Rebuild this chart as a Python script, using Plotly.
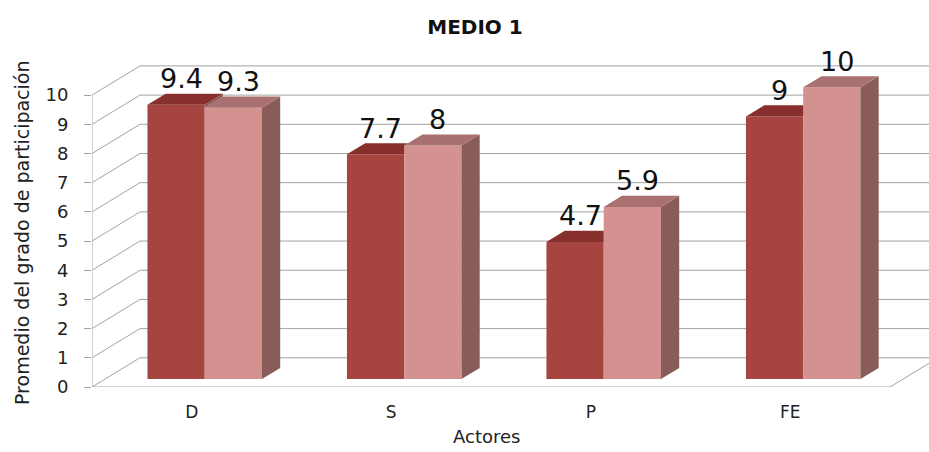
import plotly.graph_objects as go

# ---- data ----
categorias = ["D", "S", "P", "FE"]
serie_1 = [9.4, 7.7, 4.7, 9]
serie_2 = [9.3, 8, 5.9, 10]
y_ticks = list(range(0, 11))

# ---- oblique 3D projection settings (axis units) ----
DEPTH_X = 0.2406      # horizontal shift of the back wall
DEPTH_Y = 1.0         # vertical shift of the back wall
BAR_FRONT = 0.27      # depth fraction of the column front plane
BAR_DEPTH = 0.38      # depth fraction of the column thickness
BAR_W = 0.287
X_MIN, X_MAX = -0.5, 3.6955
Y_MAX = 11.1

C_DARK_FRONT, C_DARK_TOP = "#A6453F", "#862F2C"
C_LIGHT_FRONT, C_LIGHT_TOP, C_LIGHT_SIDE = "#D3918F", "#A87070", "#895C5A"
GRID = "#A3A3A3"
FONT = "DejaVu Sans"

fx, fy = BAR_FRONT * DEPTH_X, BAR_FRONT * DEPTH_Y     # front-plane shift
ddx, ddy = BAR_DEPTH * DEPTH_X, BAR_DEPTH * DEPTH_Y   # column thickness shift
n = len(categorias)
pos = list(range(n))
x_dark = [p + fx - BAR_W / 2 for p in pos]
x_light = [p + fx + BAR_W / 2 for p in pos]

fig = go.Figure()

# front faces of the columns
fig.add_trace(go.Bar(x=x_dark, y=serie_1, base=fy, width=BAR_W,
                     marker=dict(color=C_DARK_FRONT, line=dict(width=0)),
                     name="Serie 1", hoverinfo="skip"))
fig.add_trace(go.Bar(x=x_light, y=serie_2, base=fy, width=BAR_W,
                     marker=dict(color=C_LIGHT_FRONT, line=dict(width=0)),
                     name="Serie 2", hoverinfo="skip"))


def face(xs, ys, color):
    fig.add_trace(go.Scatter(x=xs + [xs[0]], y=ys + [ys[0]], mode="lines",
                             fill="toself", fillcolor=color,
                             line=dict(width=0, color=color),
                             hoverinfo="skip", showlegend=False))


for i in range(n):
    # light column: right side and top
    x0 = x_light[i] - BAR_W / 2
    x1 = x_light[i] + BAR_W / 2
    lt = fy + serie_2[i]
    face([x1, x1, x1 + ddx, x1 + ddx], [fy, lt, lt + ddy, fy + ddy], C_LIGHT_SIDE)
    face([x0, x1, x1 + ddx, x0 + ddx], [lt, lt, lt + ddy, lt + ddy], C_LIGHT_TOP)

    # dark column: the parts not hidden by its neighbour
    d0 = x_dark[i] - BAR_W / 2
    d1 = x_dark[i] + BAR_W / 2
    t = fy + serie_1[i]
    if t > lt:
        face([d1, d1, d1 + ddx, d1 + ddx], [lt, t, t + ddy, lt + ddy], C_LIGHT_SIDE)
    h = min(max(lt - t, 0), ddy)
    face([d0, d1, d1, d1 + (ddy - h) / ddy * ddx, d0 + ddx],
         [t, t, t + h, t + ddy, t + ddy], C_DARK_TOP)

# value labels, anchored on the back edge of each column top
for xs, vals in ((x_dark, serie_1), (x_light, serie_2)):
    for xc, v in zip(xs, vals):
        fig.add_annotation(x=xc + 0.025, y=fy + v + ddy, yshift=15, text=f"{v:g}",
                           showarrow=False, xanchor="center", yanchor="middle",
                           font=dict(family=FONT, size=27, color="#111111"))

# walls, floor and gridlines
wall = []
bx = X_MIN + DEPTH_X
for v in y_ticks:
    wall.append(f"M{X_MIN},{v} L{bx},{v + DEPTH_Y} L{X_MAX + 0.2},{v + DEPTH_Y}")
shapes = [dict(type="path", path=" ".join(wall), xref="x", yref="y", layer="below",
               line=dict(color=GRID, width=1))]
floor_right = n - 0.5
shapes.append(dict(type="path",
                   path=f"M{X_MIN},0 L{floor_right},0 L{floor_right + DEPTH_X},{DEPTH_Y}",
                   xref="x", yref="y", layer="below", line=dict(color=GRID, width=1)))
shapes.append(dict(type="line", x0=X_MIN, x1=X_MIN, y0=0, y1=y_ticks[-1],
                   xref="x", yref="y", layer="below", line=dict(color=GRID, width=1)))

fig.update_layout(
    width=929, height=452,
    margin=dict(l=92, r=0, t=63, b=65),
    paper_bgcolor="white", plot_bgcolor="white",
    barmode="overlay", showlegend=False,
    shapes=shapes,
    font=dict(family=FONT, color="#222222"),
    title=dict(text="<b>MEDIO 1</b>", xref="container", yref="container",
               x=475 / 929, y=1 - 27 / 452, xanchor="center", yanchor="middle",
               font=dict(family=FONT, size=20, color="#111111")),
    xaxis=dict(range=[X_MIN, X_MAX], tickvals=pos, ticktext=categorias,
               showgrid=False, zeroline=False, showline=False, ticks="",
               ticklabelstandoff=13, tickfont=dict(family=FONT, size=17, color="#222222")),
    yaxis=dict(range=[0, Y_MAX], tickvals=y_ticks, showgrid=False, zeroline=False,
               showline=False, ticks="outside", ticklen=7, tickcolor=GRID,
               ticklabelstandoff=12, tickfont=dict(family=FONT, size=18, color="#222222")),
)

fig.add_annotation(text="Actores", xref="paper", yref="paper",
                   x=(486 - 92) / 837, y=(387 - 436) / 324, showarrow=False,
                   xanchor="center", yanchor="middle",
                   font=dict(family=FONT, size=18, color="#222222"))
fig.add_annotation(text="Promedio del grado de participación", xref="paper", yref="paper",
                   x=(22 - 92) / 837, y=(387 - 233) / 324, showarrow=False, textangle=-90,
                   xanchor="center", yanchor="middle",
                   font=dict(family=FONT, size=19, color="#222222"))

fig.write_html("out.html")
